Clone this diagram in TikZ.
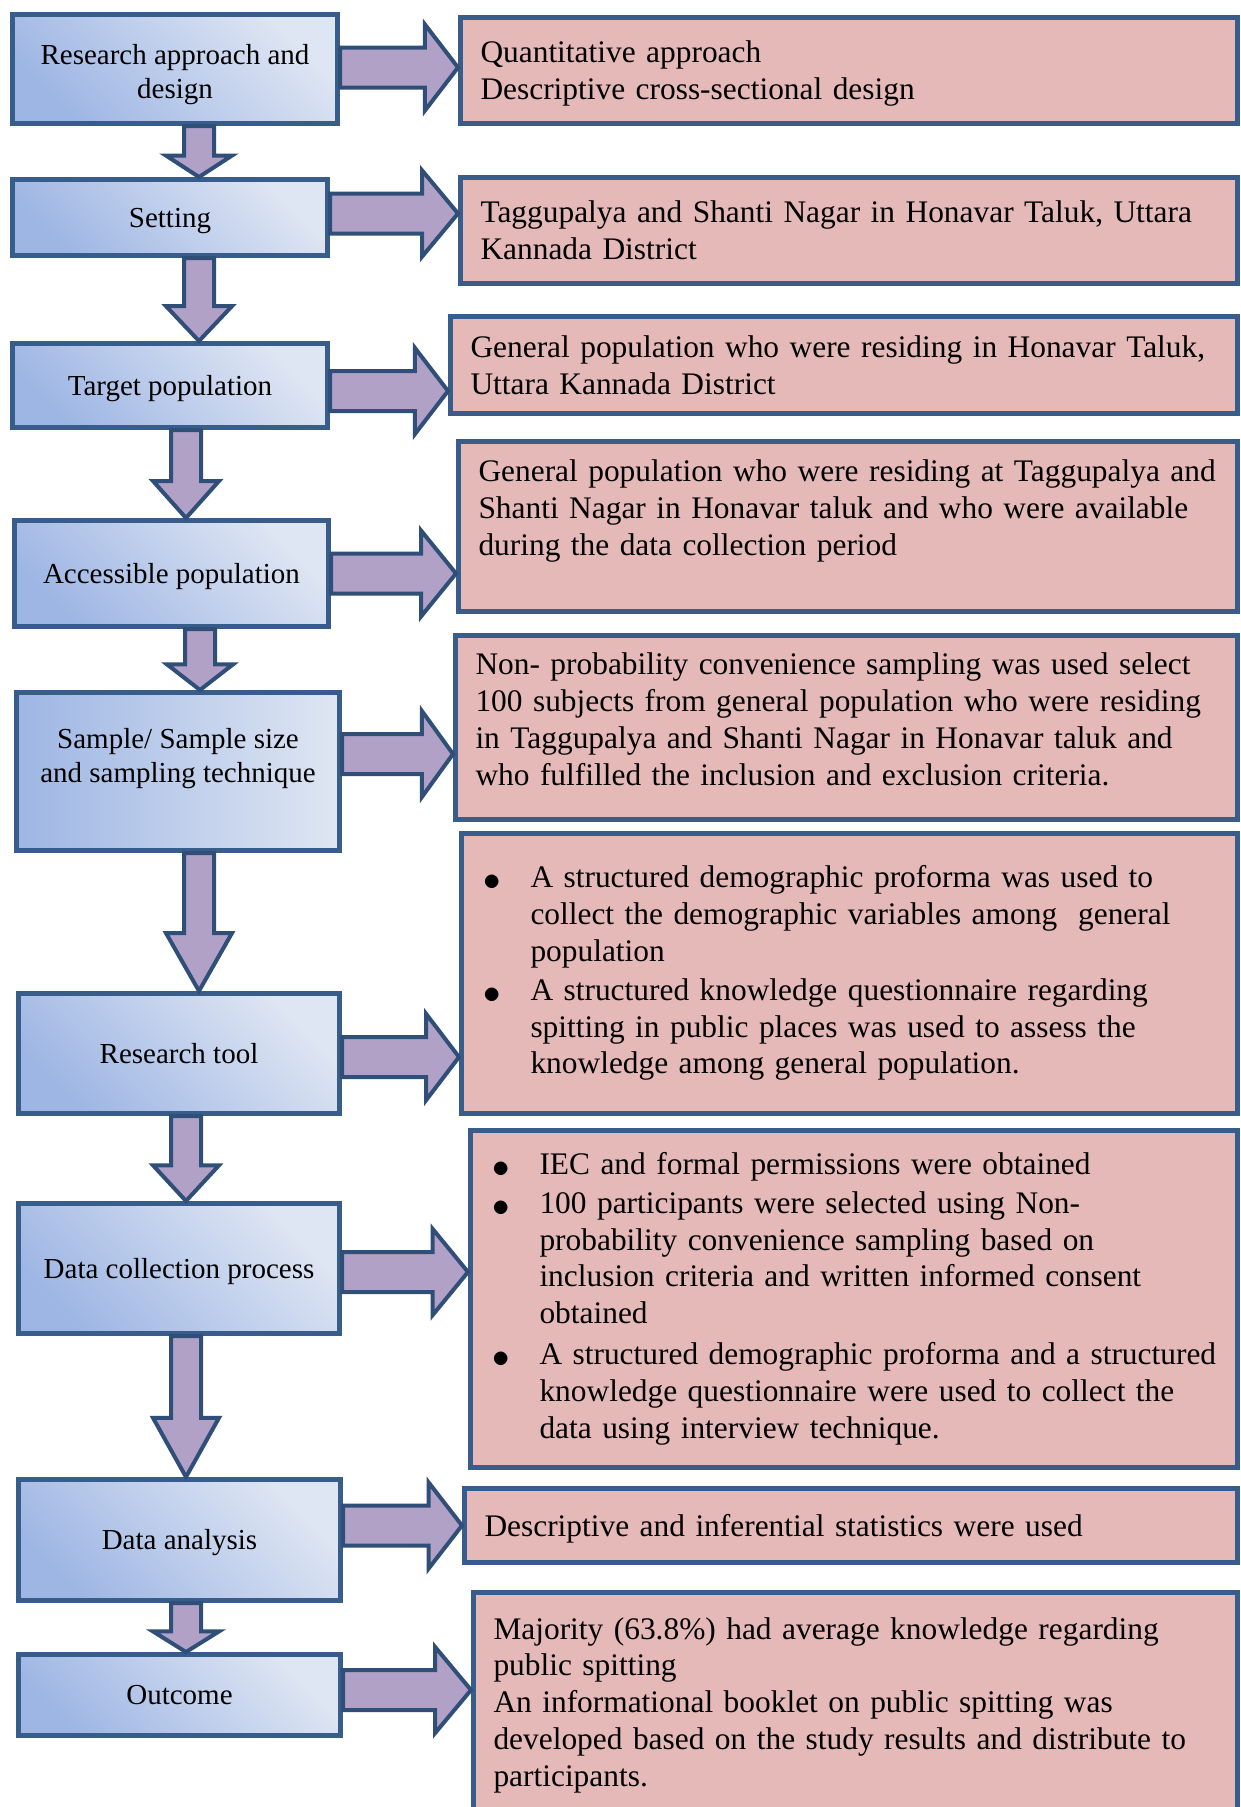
\documentclass[tikz,border=0pt]{standalone}
\usepackage{fontspec}
\setmainfont{Liberation Serif}
\usetikzlibrary{calc}
\definecolor{BoxLine}{RGB}{56,93,138}
\definecolor{ArrowLine}{RGB}{47,78,120}
\definecolor{ArrowFill}{RGB}{178,161,199}
\definecolor{StepDark}{RGB}{158,182,228}
\definecolor{StepLight}{RGB}{223,230,243}
\definecolor{NoteFill}{RGB}{229,185,184}

% line box as a word processor sets it
\newcommand{\wstrut}{\rule[-0.216em]{0pt}{1.107em}}
\newcommand{\bigdot}{\hspace{2pt}\raisebox{-3pt}{\scalebox{1.4}{$\bullet$}}}
% block arrows: from, to, vertical offset / x position
\newcommand{\hblock}[3]{%
  \draw[blockarrow] let \p1=(#1.east), \p2=(#2.west), \p3=(#1.center) in
    (\x1,{\y3-(#3pt)+20pt}) -- ({0.72*\x2+0.28*\x1},{\y3-(#3pt)+20pt})
    -- ({0.72*\x2+0.28*\x1},{\y3-(#3pt)+43pt}) -- (\x2,{\y3-(#3pt)})
    -- ({0.72*\x2+0.28*\x1},{\y3-(#3pt)-43pt}) -- ({0.72*\x2+0.28*\x1},{\y3-(#3pt)-20pt})
    -- (\x1,{\y3-(#3pt)-20pt}) -- cycle;}
\newcommand{\vblock}[3]{%
  \draw[blockarrow] let \p1=(#1.south), \p2=(#2.north) in
    ({#3pt-15pt},\y1) -- ({#3pt-15pt},{0.42*\y1+0.58*\y2})
    -- ({#3pt-33pt},{0.42*\y1+0.58*\y2}) -- (#3pt,\y2)
    -- ({#3pt+33pt},{0.42*\y1+0.58*\y2}) -- ({#3pt+15pt},{0.42*\y1+0.58*\y2})
    -- ({#3pt+15pt},\y1) -- cycle;}

\begin{document}
\begin{tikzpicture}[x=1pt, y=-1pt,
  stage/.style={draw=BoxLine, line width=5pt, top color=StepLight, bottom color=StepDark, shading angle=-45, align=center, inner sep=0pt, font=\fontsize{29}{34.5}\selectfont, execute at begin node=\wstrut, execute at end node=\wstrut},
  info/.style={draw=BoxLine, line width=5pt, fill=NoteFill, align=left, inner xsep=20pt, inner ysep=0pt, font=\fontsize{31.4}{36.8}\selectfont, execute at begin node=\wstrut, execute at end node=\wstrut},
  blockarrow/.style={draw=ArrowLine, fill=ArrowFill, line width=4pt, line join=miter}]
  \useasboundingbox (0,0) rectangle (1240,1807);

  \node[stage, minimum width=325pt, minimum height=109pt] (design) at (175,69) {\rule{0pt}{31pt}Research approach and\\design};
  \node[stage, minimum width=315pt, minimum height=76pt] (setting) at (170,217.5) {Setting};
  \node[stage, minimum width=315pt, minimum height=84pt] (target) at (170,385.5) {Target population};
  \node[stage, minimum width=314pt, minimum height=106pt] (access) at (171.5,573.5) {Accessible population};
  \node[stage, left color=StepDark, right color=StepLight, minimum width=323pt, minimum height=158pt] (sample) at (178,771.5) {Sample/ Sample size\\and sampling technique\\[-9pt]\mbox{}};
  \node[stage, minimum width=321pt, minimum height=120pt] (tool) at (179,1053.5) {Research tool};
  \node[stage, minimum width=321pt, minimum height=130pt] (collect) at (179,1268.5) {Data collection process};
  \node[stage, minimum width=322pt, minimum height=121pt] (analysis) at (179.5,1540) {Data analysis};
  \node[stage, minimum width=322pt, minimum height=81pt] (outcome) at (179.5,1695) {Outcome};

  \node[info, text width=737pt, minimum height=106pt] (rdesign) at (849,70.5) {Quantitative approach\\Descriptive cross-sectional design};
  \node[info, text width=737pt, minimum height=106pt] (rsetting) at (849,230.5) {Taggupalya and Shanti Nagar in Honavar Taluk, Uttara\\Kannada District};
  \node[info, text width=747pt, minimum height=97pt] (rtarget) at (844,365) {General population who were residing in Honavar Taluk,\\Uttara Kannada District};
  \node[info, text width=739pt, minimum height=170pt] (raccess) at (848,526.5) {General population who were residing at Taggupalya and\\Shanti Nagar in Honavar taluk and who were available\\during the data collection period\\\mbox{}};
  \node[info, text width=742pt, minimum height=184pt] (rsample) at (846.5,727.5) {Non- probability convenience sampling was used select\\100 subjects from general population who were residing\\in Taggupalya and Shanti Nagar in Honavar taluk and\\who fulfilled the inclusion and exclusion criteria.\\[-20.8pt]\mbox{}};
  \node[info, text width=736pt, minimum height=280pt] (rtool) at (849.5,973.5) {\begin{tabular}{@{}p{49pt}@{}l@{}}
    \bigdot & A structured demographic proforma was used to\\
    & collect the demographic variables among\ \ general\\
    & population\\[2pt]
    \bigdot & A structured knowledge questionnaire regarding\\
    & spitting in public places was used to assess the\\
    & knowledge among general population.
  \end{tabular}};
  \node[info, text width=727pt, minimum height=337pt] (rcollect) at (854,1299) {\begin{tabular}{@{}p{49pt}@{}l@{}}
    \bigdot & IEC and formal permissions were obtained\\[2pt]
    \bigdot & 100 participants were selected using Non-\\
    & probability convenience sampling based on\\
    & inclusion criteria and written informed consent\\
    & obtained\\[4pt]
    \bigdot & A structured demographic proforma and a structured\\
    & knowledge questionnaire were used to collect the\\
    & data using interview technique.
  \end{tabular}};
  \node[info, text width=733pt, minimum height=74pt] (ranalysis) at (851,1525.5) {Descriptive and inferential statistics were used};
  \node[info, text width=724pt, minimum height=235pt] (routcome) at (855.5,1710) {Majority (63.8\%) had average knowledge regarding\\public spitting\\An informational booklet on public spitting was\\developed based on the study results and distribute to\\participants.\\[-20.8pt]\mbox{}};

  \vblock{design}{setting}{199}
  \vblock{setting}{target}{199}
  \vblock{target}{access}{186}
  \vblock{access}{sample}{200}
  \vblock{sample}{tool}{199}
  \vblock{tool}{collect}{186}
  \vblock{collect}{analysis}{186}
  \vblock{analysis}{outcome}{186}

  \hblock{design}{rdesign}{-1.5}
  \hblock{setting}{rsetting}{-4}
  \hblock{target}{rtarget}{5.5}
  \hblock{access}{raccess}{0}
  \hblock{sample}{rsample}{-17.5}
  \hblock{tool}{rtool}{3.5}
  \hblock{collect}{rcollect}{3.5}
  \hblock{analysis}{ranalysis}{-14.5}
  \hblock{outcome}{routcome}{-5}
\end{tikzpicture}
\end{document}
